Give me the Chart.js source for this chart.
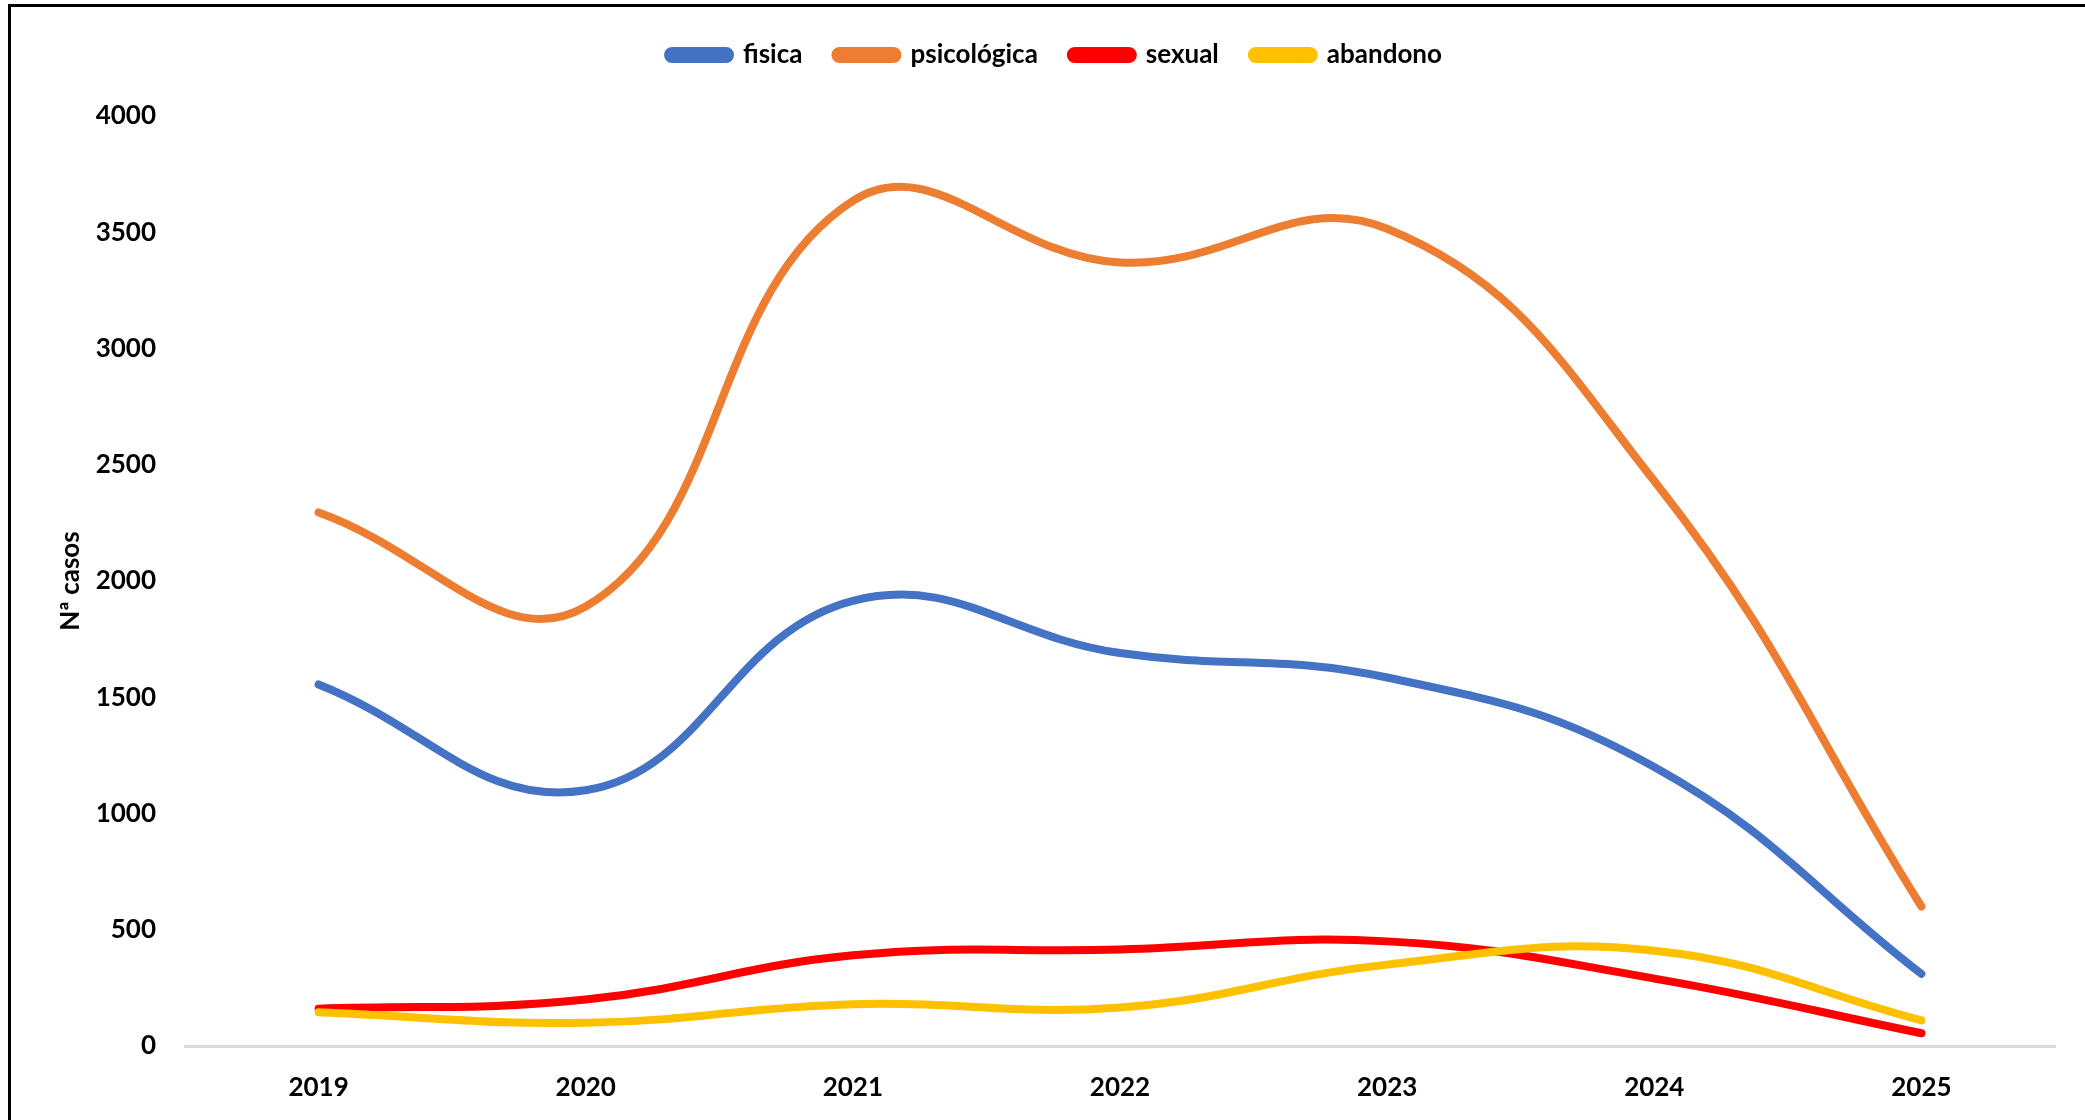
<!DOCTYPE html>
<html>
<head>
<meta charset="utf-8">
<script src="https://cdn.jsdelivr.net/npm/chart.js@4"></script>
<style>
  html, body { margin: 0; padding: 0; background: #fff; overflow: hidden; }
  #wrap { position: absolute; left: 0; top: 0; width: 2085px; height: 1120px; }
  #frame { position: absolute; left: 8px; top: 4px; width: 2200px; height: 1300px; border: 3px solid #000; pointer-events: none; }
</style>
</head>
<body>
<div id="wrap"><canvas id="casosChart" width="2085" height="1120"></canvas></div>
<div id="frame"></div>
<script>
const years = ["2019", "2020", "2021", "2022", "2023", "2024", "2025"];
const fisica = [1555, 1100, 1915, 1690, 1585, 1200, 310];
const psicologica = [2295, 1890, 3635, 3370, 3515, 2430, 600];
const sexual = [160, 200, 390, 415, 450, 290, 55];
const abandono = [145, 100, 180, 166, 350, 410, 110];
const yTicks = [0, 500, 1000, 1500, 2000, 2500, 3000, 3500, 4000];

const fontFamily = "Lato, 'Liberation Sans', sans-serif";

function makeSeries(label, data, color, order) {
  return {
    label: label,
    data: data,
    borderColor: color,
    backgroundColor: color,
    borderWidth: 8,
    borderCapStyle: "round",
    tension: 0.42,
    pointRadius: 0,
    fill: false,
    order: order
  };
}

// keep the plot top at the same place whatever the legend measures
const legendHeight = {
  id: "legendHeight",
  beforeInit(chart) {
    const fit = chart.legend.fit;
    chart.legend.fit = function () {
      fit.bind(chart.legend)();
      this.height = 107;
    };
  }
};

new Chart(document.getElementById("casosChart"), {
  type: "line",
  data: {
    labels: years,
    datasets: [
      makeSeries("fisica", fisica, "#4472C4", 4),
      makeSeries("psicológica", psicologica, "#ED7D31", 3),
      makeSeries("sexual", sexual, "#FF0000", 2),
      makeSeries("abandono", abandono, "#FFC000", 1)
    ]
  },
  options: {
    responsive: false,
    animation: false,
    layout: {
      padding: { left: 55, right: 30, top: 9, bottom: 0 }
    },
    plugins: {
      legend: {
        display: true,
        position: "top",
        labels: {
          boxWidth: 62,
          boxHeight: 8,
          useBorderRadius: true,
          borderRadius: 4,
          padding: 33,
          color: "#000",
          font: { family: fontFamily, size: 26, weight: "bold" },
          sort: (a, b) => a.datasetIndex - b.datasetIndex
        }
      },
      tooltip: { enabled: false }
    },
    scales: {
      x: {
        offset: true,
        grid: { display: false, drawTicks: false },
        border: { display: true, color: "#D9D9D9", width: 3 },
        ticks: {
          color: "#000",
          padding: 26,
          font: { family: fontFamily, size: 26, weight: "bold" }
        },
        afterFit(scale) { scale.height = 74; }
      },
      y: {
        min: 0,
        max: 4000,
        afterBuildTicks(scale) { scale.ticks = yTicks.map(v => ({ value: v })); },
        grid: { display: false, drawTicks: false },
        border: { display: false },
        ticks: {
          color: "#000",
          padding: 29,
          font: { family: fontFamily, size: 26, weight: "bold" },
          callback: (value) => String(value)
        },
        title: {
          display: true,
          text: "Nª casos",
          color: "#000",
          padding: 0,
          font: { family: fontFamily, size: 26, weight: "bold" }
        },
        afterFit(scale) { scale.width = 130; }
      }
    }
  },
  plugins: [legendHeight]
});
</script>
</body>
</html>
